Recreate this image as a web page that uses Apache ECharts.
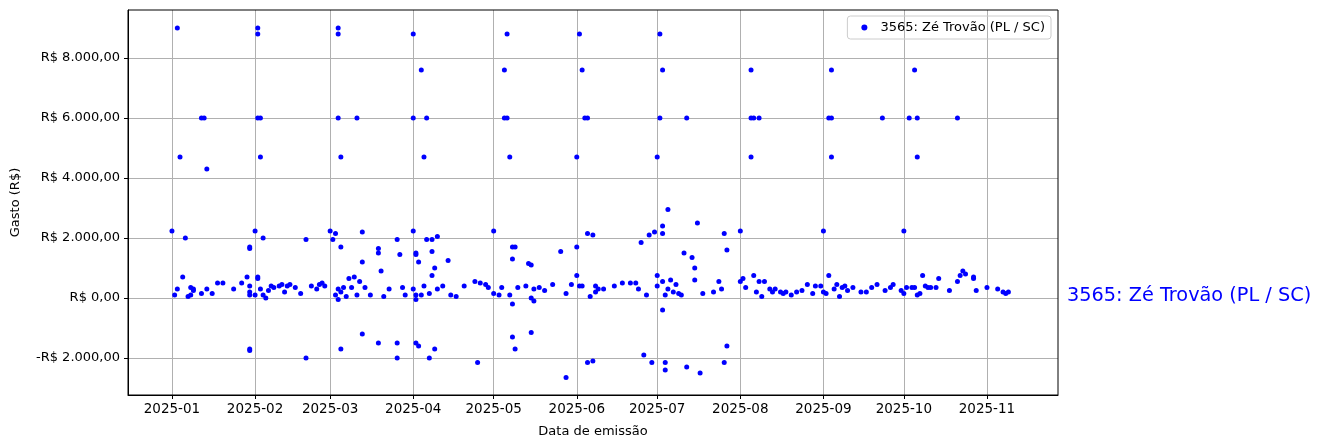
<!DOCTYPE html>
<html lang="pt">
<head>
<meta charset="UTF-8">
<title>Gastos</title>
<script src="https://cdn.jsdelivr.net/npm/echarts@6/dist/echarts.min.js"></script>
<style>
  body{margin:0;background:#fff;}
  #chart{width:1323px;height:448px;}
</style>
</head>
<body>
<div id="chart"></div>
<script>
var seriesName = '3565: Zé Trovão (PL / SC)';
var monthTicks = ['2025-01-01','2025-02-01','2025-03-01','2025-04-01','2025-05-01','2025-06-01',
  '2025-07-01','2025-08-01','2025-09-01','2025-10-01','2025-11-01'];
var yTicks = [-2000, 0, 2000, 4000, 6000, 8000];

// [data de emissão, gasto]
var jan = [['2025-01-01',2230],['2025-01-03',9000],['2025-01-04',4700],['2025-01-06',2000],['2025-01-05',700],
  ['2025-01-02',100],['2025-01-03',300],['2025-01-07',50],['2025-01-08',100],['2025-01-08',350],['2025-01-09',300],
  ['2025-01-09',250],['2025-01-12',6000],['2025-01-13',6000],['2025-01-14',4300],['2025-01-12',150],['2025-01-14',300],
  ['2025-01-16',150],['2025-01-18',500],['2025-01-20',500],['2025-01-24',300],['2025-01-27',500],['2025-01-29',700],
  ['2025-01-30',1700],['2025-01-30',1650],['2025-01-30',-1700],['2025-01-30',-1750],['2025-01-30',400],['2025-01-30',200],['2025-01-30',100]];
var feb = [['2025-02-01',2230],['2025-02-01',100],['2025-02-02',9000],['2025-02-02',8800],['2025-02-02',6000],['2025-02-03',6000],
  ['2025-02-03',4700],['2025-02-04',2000],['2025-02-02',700],['2025-02-02',650],['2025-02-03',300],['2025-02-04',100],
  ['2025-02-05',0],['2025-02-07',400],['2025-02-08',350],['2025-02-10',400],['2025-02-11',450],['2025-02-12',200],
  ['2025-02-13',400],['2025-02-14',450],['2025-02-16',350],['2025-02-18',150],['2025-02-20',1950],['2025-02-20',-2000],
  ['2025-02-22',400],['2025-02-24',300],['2025-02-25',450],['2025-02-26',500],['2025-02-27',400],['2025-02-06',250]];
var mar = [['2025-03-01',2230],['2025-03-02',1950],['2025-03-03',2150],['2025-03-04',9000],['2025-03-04',8800],['2025-03-04',6000],
  ['2025-03-05',4700],['2025-03-03',100],['2025-03-04',300],['2025-03-04',-50],['2025-03-05',-1700],['2025-03-05',1700],
  ['2025-03-05',200],['2025-03-06',350],['2025-03-07',50],['2025-03-08',650],['2025-03-09',350],['2025-03-10',700],
  ['2025-03-11',6000],['2025-03-11',100],['2025-03-12',550],['2025-03-13',1200],['2025-03-13',2200],['2025-03-13',-1200],
  ['2025-03-14',350],['2025-03-16',100],['2025-03-19',1650],['2025-03-19',1500],['2025-03-19',-1500],['2025-03-20',900],
  ['2025-03-21',50],['2025-03-23',300],['2025-03-26',1950],['2025-03-26',-2000],['2025-03-26',-1500],['2025-03-27',1450],
  ['2025-03-28',350],['2025-03-29',100]];
var apr = [['2025-04-01',2230],['2025-04-01',8800],['2025-04-01',6000],['2025-04-01',300],['2025-04-02',1500],['2025-04-02',1450],
  ['2025-04-02',-1500],['2025-04-02',100],['2025-04-02',-50],['2025-04-03',1200],['2025-04-03',-1600],['2025-04-04',7600],
  ['2025-04-05',4700],['2025-04-05',400],['2025-04-06',6000],['2025-04-06',1950],['2025-04-07',-2000],['2025-04-08',1950],
  ['2025-04-08',1550],['2025-04-08',750],['2025-04-09',1000],['2025-04-09',-1700],['2025-04-10',2050],['2025-04-10',300],
  ['2025-04-12',400],['2025-04-14',1250],['2025-04-15',100],['2025-04-17',50],['2025-04-20',400],['2025-04-24',550],
  ['2025-04-25',-2150],['2025-04-26',500],['2025-04-28',450],['2025-04-29',350],['2025-04-04',100],['2025-04-07',150]];
var may = [['2025-05-01',2230],['2025-05-01',150],['2025-05-03',100],['2025-05-04',350],['2025-05-05',6000],['2025-05-05',7600],
  ['2025-05-06',8800],['2025-05-06',6000],['2025-05-07',4700],['2025-05-07',100],['2025-05-08',1300],['2025-05-08',1700],
  ['2025-05-09',1700],['2025-05-09',-1700],['2025-05-08',-1300],['2025-05-08',-200],['2025-05-10',350],['2025-05-13',400],
  ['2025-05-14',1150],['2025-05-15',1100],['2025-05-15',-1150],['2025-05-15',0],['2025-05-16',-100],['2025-05-16',300],
  ['2025-05-18',350],['2025-05-20',250],['2025-05-23',450],['2025-05-26',1550],['2025-05-28',-2650],['2025-05-28',150],['2025-05-30',450]];
var jun = [['2025-06-01',1700],['2025-06-01',750],['2025-06-02',400],['2025-06-02',8800],['2025-06-03',7600],['2025-06-04',6000],
  ['2025-06-05',6000],['2025-06-01',4700],['2025-06-03',400],['2025-06-05',2150],['2025-06-05',-2150],['2025-06-06',50],
  ['2025-06-07',-2100],['2025-06-07',2100],['2025-06-08',400],['2025-06-08',200],['2025-06-09',300],['2025-06-11',300],
  ['2025-06-15',400],['2025-06-18',500],['2025-06-21',500],['2025-06-23',500],['2025-06-24',300],['2025-06-25',1850],
  ['2025-06-26',-1900],['2025-06-27',100],['2025-06-28',2100],['2025-06-29',-2150],['2025-06-30',2200]];
var jul = [['2025-07-01',4700],['2025-07-02',8800],['2025-07-03',7600],['2025-07-02',6000],['2025-07-01',750],['2025-07-01',400],
  ['2025-07-03',550],['2025-07-03',2400],['2025-07-03',2150],['2025-07-03',-400],['2025-07-04',-2150],['2025-07-04',-2400],
  ['2025-07-04',100],['2025-07-05',2950],['2025-07-06',600],['2025-07-07',200],['2025-07-08',450],['2025-07-09',150],
  ['2025-07-11',1500],['2025-07-12',6000],['2025-07-12',-2300],['2025-07-14',1350],['2025-07-15',1000],['2025-07-15',600],
  ['2025-07-16',2500],['2025-07-17',-2500],['2025-07-18',150],['2025-07-22',200],['2025-07-24',550],['2025-07-25',300],
  ['2025-07-26',2150],['2025-07-27',1600],['2025-07-26',-2150],['2025-07-27',-1600],['2025-07-05',300],['2025-07-10',100]];
var aug = [['2025-08-01',2230],['2025-08-01',550],['2025-08-02',650],['2025-08-03',350],['2025-08-05',4700],['2025-08-05',7600],
  ['2025-08-05',6000],['2025-08-06',6000],['2025-08-06',750],['2025-08-08',6000],['2025-08-07',200],['2025-08-08',550],
  ['2025-08-09',50],['2025-08-10',550],['2025-08-12',300],['2025-08-13',200],['2025-08-14',300],['2025-08-16',200],
  ['2025-08-17',150],['2025-08-18',200],['2025-08-20',100],['2025-08-22',200],['2025-08-24',250],['2025-08-26',450],
  ['2025-08-28',150],['2025-08-29',400],['2025-08-31',400]];
var sep = [['2025-09-01',2230],['2025-09-01',200],['2025-09-02',150],['2025-09-03',6000],['2025-09-03',750],['2025-09-04',7600],
  ['2025-09-04',4700],['2025-09-04',6000],['2025-09-05',300],['2025-09-06',450],['2025-09-07',50],['2025-09-08',350],
  ['2025-09-09',400],['2025-09-10',250],['2025-09-12',350],['2025-09-15',200],['2025-09-17',200],['2025-09-19',350],
  ['2025-09-21',450],['2025-09-23',6000],['2025-09-24',250],['2025-09-26',350],['2025-09-27',450],['2025-09-30',250]];
var octNov = [['2025-10-01',2230],['2025-10-01',150],['2025-10-02',350],['2025-10-03',6000],['2025-10-04',350],['2025-10-05',7600],
  ['2025-10-05',350],['2025-10-06',100],['2025-10-06',6000],['2025-10-06',4700],['2025-10-07',150],['2025-10-08',750],
  ['2025-10-09',400],['2025-10-10',350],['2025-10-11',350],['2025-10-13',350],['2025-10-14',650],['2025-10-18',250],
  ['2025-10-21',6000],['2025-10-21',550],['2025-10-22',750],['2025-10-23',900],['2025-10-24',800],['2025-10-27',700],
  ['2025-10-27',650],['2025-10-28',250],['2025-11-01',350],['2025-11-05',300],['2025-11-07',200],['2025-11-08',150],['2025-11-09',200]];

var points = [].concat(jan, feb, mar, apr, may, jun, jul, aug, sep, octNov);

function brl(v) {
  var s = Math.abs(v).toFixed(2).split('.');
  var intPart = s[0].replace(/\B(?=(\d{3})+(?!\d))/g, '.');
  return (v < 0 ? '-' : '') + 'R$ ' + intPart + ',' + s[1];
}

var day = 86400000;
var xMin = Date.parse('2025-01-01') - 16.4 * day;
var xMax = Date.parse('2025-11-01') + 26.5 * day;
var monthVals = monthTicks.map(function (d) { return Date.parse(d); });

var chart = echarts.init(document.getElementById('chart'));
chart.setOption({
  animation: false,
  textStyle: { fontFamily: 'DejaVu Sans' },
  grid: { left: 128, right: 265, top: 10, bottom: 53 },
  legend: {
    right: 272, top: 16, orient: 'vertical',
    itemWidth: 6, itemHeight: 6, itemGap: 4,
    padding: [5, 6, 5, 14], borderColor: '#ccc', borderWidth: 1, borderRadius: 3,
    textStyle: { fontSize: 13, color: '#000', padding: [0, 0, 0, 8] },
    data: [{ name: seriesName, icon: 'circle' }]
  },
  xAxis: {
    type: 'value', min: xMin, max: xMax, scale: true,
    name: 'Data de emissão', nameLocation: 'middle', nameGap: 30,
    nameTextStyle: { fontSize: 13, color: '#000' },
    axisLine: { onZero: false, lineStyle: { color: '#000' } },
    axisTick: { show: true, customValues: monthVals, length: 4, lineStyle: { color: '#000' } },
    axisLabel: {
      customValues: monthVals, color: '#000', fontSize: 13.5, margin: 7,
      formatter: function (v) { return new Date(v).toISOString().slice(0, 7); }
    },
    splitLine: { show: true, lineStyle: { color: '#b0b0b0', width: 1 } }
  },
  yAxis: {
    type: 'value', min: -3233, max: 9600,
    name: 'Gasto (R$)', nameLocation: 'middle', nameGap: 106,
    nameTextStyle: { fontSize: 13, color: '#000' },
    axisLine: { show: true, lineStyle: { color: '#000' } },
    axisTick: { show: true, customValues: yTicks, length: 4, lineStyle: { color: '#000' } },
    axisLabel: { customValues: yTicks, color: '#000', fontSize: 13, margin: 8, formatter: brl },
    splitLine: { show: true, lineStyle: { color: '#b0b0b0', width: 1 } }
  },
  graphic: [
    { type: 'rect', shape: { x: 128, y: 10, width: 930, height: 385 }, style: { fill: 'none', stroke: '#000', lineWidth: 1 }, silent: true, z: 10 },
    { type: 'text', left: 1067, top: 286, style: { text: seriesName, fill: '#0000ff', fontSize: 19.3, fontFamily: 'DejaVu Sans' } }
  ],
  series: [{
    name: seriesName, type: 'scatter', symbolSize: 5,
    itemStyle: { color: '#0000ff', opacity: 1 },
    data: points.map(function (p) { return [Date.parse(p[0]), p[1]]; })
  }]
});
</script>
</body>
</html>
